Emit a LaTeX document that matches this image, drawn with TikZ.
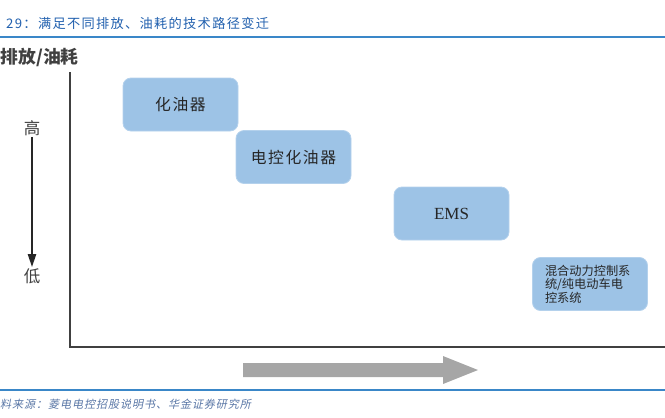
\documentclass[tikz,border=0pt]{standalone}
\usepackage{fontspec}
\setmainfont{Liberation Serif}
\newfontfamily\cjk{Noto Sans CJK SC}
\newfontfamily\cjkwide[LetterSpace=10]{Noto Sans CJK SC}
\newfontfamily\cjkslant[FakeSlant=0.2,LetterSpace=8]{Noto Sans CJK SC}
\usetikzlibrary{arrows.meta}
\definecolor{titleblue}{HTML}{2160AE}
\definecolor{ruleblue}{HTML}{3A87C8}
\definecolor{srcblue}{HTML}{5A77A6}
\definecolor{boxfill}{HTML}{9DC3E6}
\definecolor{boxline}{HTML}{B4D1EC}
\definecolor{axisgray}{HTML}{404040}
\definecolor{fatgray}{HTML}{A6A6A6}
\newcommand{\sz}[1]{\fontsize{#1}{#1}\selectfont}

\tikzset{
	stage/.style={rectangle, rounded corners=8pt, fill=boxfill, draw=boxline,
		line width=0.8pt, minimum width=115pt, minimum height=53pt,
		text=black!85, inner sep=4pt},
	axis/.style={draw=axisgray, line width=2pt}
}

\begin{document}
\begin{tikzpicture}[x=1pt,y=-1pt]
	\useasboundingbox (0,0) rectangle (665,418);
	% heading and rules
	\node [anchor=west, text=titleblue, inner sep=0] (title) at (6,23)
		{\cjkwide\sz{13.2}29：满足不同排放、油耗的技术路径变迁};
	\draw [ruleblue, line width=1.5pt] (0,37) -- (665,37);
	\draw [ruleblue, line width=1.2pt] (0,390) -- (665,390);
	\node [anchor=west, text=srcblue, inner sep=0] (source) at (0,404)
		{\cjkslant\sz{11.1}料来源：菱电电控招股说明书、华金证券研究所};
	% axes
	\node [anchor=west, text=axisgray, inner sep=0] (ylabel) at (0.5,57)
		{\cjk\bfseries\sz{17.8}排放/油耗};
	\coordinate (top) at (70,72);
	\coordinate (o) at (70,347);
	\coordinate (right) at (668,347);
	\draw [axis] (top) -- (o) -- (right);
	\node [text=axisgray, inner sep=1pt] (hi) at (32,128) {\cjk\sz{16.5}高};
	\node [text=axisgray, inner sep=1pt] (lo) at (32,276) {\cjk\sz{16.5}低};
	\draw [ -{Triangle[length=13pt,width=8pt]}, line width=2pt, black!85 ]
		(hi) to (lo);
	% stages
	\node [stage] (1) at (180.5,104.5) {\cjkwide\sz{15.8}化油器};
	\node [stage] (2) at (293.5,157) {\cjkwide\sz{15.8}电控化油器};
	\node [stage] (3) at (451.5,213.5) {\sz{17}EMS};
	\node [stage, align=left, text width=90pt] (4) at (590,284)
		{\cjk\fontsize{12.2}{13.6}\selectfont 混合动力控制系\\统/纯电动车电\\控系统};
	% time arrow
	\fill [fatgray] (243,363) -- (443,363) -- (443,356) -- (478,370)
		-- (443,384) -- (443,377) -- (243,377) -- cycle;
\end{tikzpicture}
\end{document}
